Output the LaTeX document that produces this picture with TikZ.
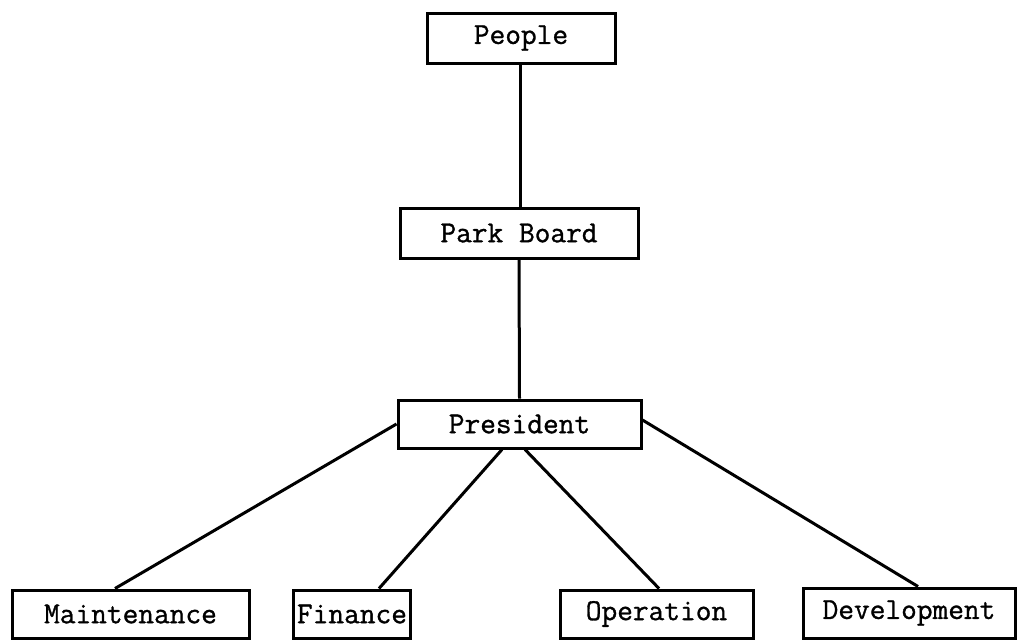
\documentclass[tikz,border=0pt]{standalone}
\usepackage{fontspec}
\newfontfamily\tw[FakeBold=1.0]{Latin Modern Mono}
\begin{document}
\begin{tikzpicture}[x=1pt,y=-1pt,
  box/.style={draw=black,line width=3pt,rectangle,inner sep=0pt,font=\tw\fontsize{30.5}{30.5}\selectfont,text=black},
  link/.style={draw=black,line width=3pt}]
\useasboundingbox (0,0) rectangle (1018,640);
\node[box,minimum width=188,minimum height=50] (people) at (521,38) {People};
\node[box,minimum width=238,minimum height=50] (board) at (519,233) {Park Board};
\node[box,minimum width=243,minimum height=48] (pres) at (519.5,424) {President};
\node[box,minimum width=237,minimum height=48] (maint) at (130.5,614) {Maintenance};
\node[box,minimum width=117,minimum height=48] (fin) at (352,614) {Finance};
\node[box,minimum width=193,minimum height=48] (oper) at (656.5,614) {Operation};
\node[box,minimum width=212,minimum height=50] (dev) at (909,613) {Development};
\draw[link] ([xshift=-1]people.south) -- ([xshift=1]board.north);
\draw[link] (board.south) -- (pres.north);
\draw[link] (pres.west) -- ([xshift=-15.5]maint.north);
\draw[link] ([xshift=-17.5]pres.south) -- ([xshift=27]fin.north);
\draw[link] ([xshift=5.5]pres.south) -- ([xshift=2.5]oper.north);
\draw[link] ([yshift=4]pres.east) -- ([xshift=9]dev.north);
\end{tikzpicture}
\end{document}
